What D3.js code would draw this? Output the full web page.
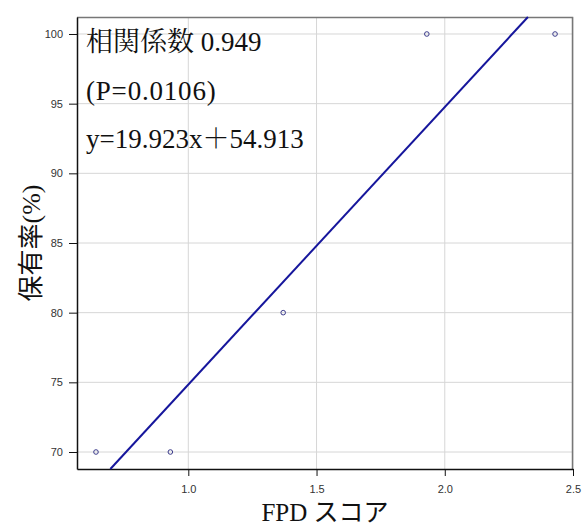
<!DOCTYPE html>
<html>
<head>
<meta charset="utf-8">
<script src="https://cdn.jsdelivr.net/npm/d3@7"></script>
<style>
  body { margin: 0; background: #fff; }
  svg { display: block; }
</style>
</head>
<body>
<div id="chart"></div>
<script>
/* data */
let fpdScores = [0.64, 0.93, 1.37, 1.93, 2.43];
let retention = [70, 70, 80, 100, 100];
let slope = 19.923;
let intercept = 54.913;
let xTicks = [1.0, 1.5, 2.0, 2.5];
let yTicks = [70, 75, 80, 85, 90, 95, 100];
let notes = ["相関係数 0.949", "(P=0.0106)", "y=19.923x＋54.913"];

/* dimensions */
let width = 582;
let height = 525;
let margin = {top: 17, bottom: 56, right: 9, left: 77};
let pWidth = width - margin.left - margin.right;
let pHeight = height - margin.top - margin.bottom;

let xDomain = [0.566, 2.5];
let yDomain = [68.78, 101.22];

let svg = d3.select("#chart").append("svg")
            .attr("width", width)
            .attr("height", height);

let x = d3.scaleLinear().domain(xDomain).range([0, pWidth]);
let y = d3.scaleLinear().domain(yDomain).range([pHeight, 0]);

let g = svg.append("g")
           .attr("transform", `translate(${margin.left}, ${margin.top})`);

// grid
g.append("g").selectAll("line")
  .data(yTicks).join("line")
    .attr("x1", 0).attr("x2", pWidth)
    .attr("y1", d => y(d)).attr("y2", d => y(d))
    .attr("stroke", "#d6d6d6").attr("stroke-width", 1);

g.append("g").selectAll("line")
  .data(xTicks).join("line")
    .attr("x1", d => x(d)).attr("x2", d => x(d))
    .attr("y1", 0).attr("y2", pHeight)
    .attr("stroke", "#d6d6d6").attr("stroke-width", 1);

// top / right frame in grey
g.append("path")
  .attr("d", `M0,0.5H${pWidth - 0.5}V${pHeight}`)
  .attr("fill", "none")
  .attr("stroke", "#777")
  .attr("stroke-width", 1.5);

// axes
let xAxis = g.append("g")
  .attr("transform", `translate(0, ${pHeight})`)
  .call(d3.axisBottom(x).tickValues(xTicks).tickFormat(d3.format(".1f")).tickSize(7).tickSizeOuter(0));

let yAxis = g.append("g")
  .call(d3.axisLeft(y).tickValues(yTicks).tickSize(8).tickSizeOuter(0));

[xAxis, yAxis].forEach(a => {
  a.select(".domain").attr("stroke", "#111").attr("stroke-width", 1.5);
  a.selectAll(".tick line").attr("stroke", "#111").attr("stroke-width", 1);
  a.selectAll(".tick text")
    .attr("fill", "#333")
    .style("font-family", "'Liberation Sans', Arial, sans-serif")
    .style("font-size", "11px");
});
xAxis.selectAll(".tick text").attr("y", 16);
yAxis.selectAll(".tick text").attr("x", -14);

// regression line
let lineData = [yDomain[0], yDomain[1]].map(v => ({x: (v - intercept) / slope, y: v}));
let line = d3.line()
             .x(d => x(d.x))
             .y(d => y(d.y));

g.append("path")
  .attr("d", line(lineData))
  .attr("fill", "none")
  .attr("stroke", "#16169c")
  .attr("stroke-width", 2);

// points
g.append("g").selectAll("circle")
  .data(fpdScores.map((v, i) => ({x: v, y: retention[i]})))
  .join("circle")
    .attr("cx", d => x(d.x))
    .attr("cy", d => y(d.y))
    .attr("r", 2.3)
    .attr("fill", "none")
    .attr("stroke", "#3a3a8a")
    .attr("stroke-width", 1);

// annotations
g.append("g").selectAll("text")
  .data(notes).join("text")
    .attr("x", 9)
    .attr("y", (d, i) => 34 + i * 48.5)
    .attr("fill", "#111")
    .attr("letter-spacing", (d, i) => i == 1 ? 0.8 : 0)
    .style("font-family", "'Liberation Serif', 'Noto Serif CJK JP', 'Noto Sans CJK JP', serif")
    .style("font-size", "27px")
    .text(d => d);

// axis titles
svg.append("text")
  .attr("x", margin.left + pWidth / 2)
  .attr("y", 521)
  .attr("text-anchor", "middle")
  .attr("fill", "#111")
  .style("font-family", "'Liberation Serif', 'Noto Sans CJK JP', serif")
  .style("font-size", "25px")
  .text("FPD スコア");

svg.append("text")
  .attr("transform", `translate(40, 243) rotate(-90)`)
  .attr("text-anchor", "middle")
  .attr("fill", "#111")
  .style("font-family", "'Liberation Serif', 'Noto Sans CJK JP', serif")
  .style("font-size", "26px")
  .text("保有率(%)");
</script>
</body>
</html>
